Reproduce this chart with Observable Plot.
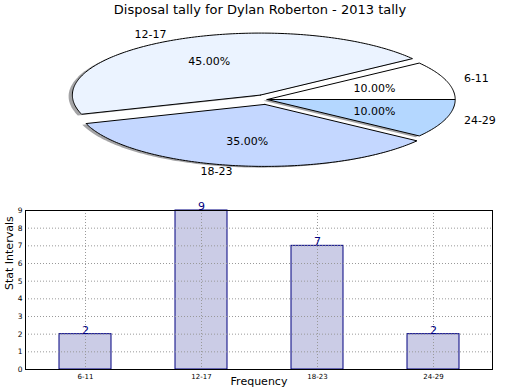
<!DOCTYPE html>
<html>
<head>
<meta charset="utf-8">
<script src="https://cdn.jsdelivr.net/npm/d3@7"></script>
<script src="https://cdn.jsdelivr.net/npm/@observablehq/plot@0.6"></script>
<style>
  html, body { margin: 0; padding: 0; background: white; width: 520px; height: 390px; overflow: hidden; }
  #title { font-family: "DejaVu Sans", sans-serif; font-size: 13px; height: 20px; line-height: 20px; text-align: center; color: #000; }
  svg { display: block; }
</style>
</head>
<body>
<div id="title">Disposal tally for Dylan Roberton - 2013 tally</div>
<div id="pie"></div>
<div id="bars"></div>
<script>
// ---- data ----
const categories = ["6-11", "12-17", "18-23", "24-29"];
const counts = [2, 9, 7, 2];
const pieShares = [10, 45, 35, 10];            // percent per category
const pieLabels = ["10.00%", "45.00%", "35.00%", "10.00%"];
const yTicks = [0, 1, 2, 3, 4, 5, 6, 7, 8, 9];

// ---- styling ----
const sliceColors = ["#ffffff", "#ebf3ff", "#c4d7ff", "#b4d7ff"];
const explode = [0, 0.08, 0.08, 0];
const font = "DejaVu Sans";

// ---- pie geometry in unit-circle coordinates (scaled by Plot's x/y scales) ----
const slices = [];
let acc = 0;
categories.forEach((c, i) => {
  const a0 = acc / 100 * 2 * Math.PI;
  acc += pieShares[i];
  const a1 = acc / 100 * 2 * Math.PI;
  const mid = (a0 + a1) / 2;
  const ox = explode[i] * Math.cos(mid), oy = explode[i] * Math.sin(mid);
  const pts = [{x: ox, y: oy}];
  const n = Math.max(4, Math.ceil((a1 - a0) / (Math.PI / 180)));
  for (let k = 0; k <= n; k++) {
    const a = a0 + (a1 - a0) * k / n;
    pts.push({x: ox + Math.cos(a), y: oy + Math.sin(a)});
  }
  pts.push({x: ox, y: oy});
  slices.push({
    cat: c, color: sliceColors[i], pts,
    shadow: pts.map(p => ({x: p.x - 0.02, y: p.y - 0.02})),
    lx: ox + 1.1 * Math.cos(mid), ly: oy + 1.1 * Math.sin(mid),
    px: ox + 0.6 * Math.cos(mid), py: oy + 0.6 * Math.sin(mid),
    pct: pieLabels[i]
  });
});

const pieMarks = [];
slices.forEach(s => pieMarks.push(Plot.line(s.shadow, {x: "x", y: "y", fill: "#4a4a4d", fillOpacity: 0.5, stroke: "none"})));
slices.forEach(s => pieMarks.push(Plot.line(s.pts, {x: "x", y: "y", fill: s.color, stroke: "black", strokeWidth: 1, strokeLinejoin: "miter"})));
pieMarks.push(Plot.text(slices.filter(s => s.lx >= 0), {x: "lx", y: "ly", text: "cat", textAnchor: "start", fontSize: 11, fill: "black"}));
pieMarks.push(Plot.text(slices.filter(s => s.lx < 0), {x: "lx", y: "ly", text: "cat", textAnchor: "end", fontSize: 11, fill: "black"}));
pieMarks.push(Plot.text(slices, {x: "px", y: "py", text: "pct", textAnchor: "middle", fontSize: 11, fill: "black"}));

const pie = Plot.plot({
  width: 520, height: 170, margin: 0,
  style: {fontFamily: font, background: "white"},
  x: {domain: [-1, 1], range: [78.7, 454.7], axis: null},
  y: {domain: [-1, 1], range: [141, 17], axis: null},
  marks: pieMarks
});
document.getElementById("pie").appendChild(pie);

// ---- bar chart ----
const barData = categories.map((c, i) => ({cat: c, count: counts[i]}));
const bars = Plot.plot({
  width: 520, height: 200,
  marginTop: 20, marginRight: 28, marginBottom: 21, marginLeft: 25,
  style: {fontFamily: font, background: "white", overflow: "visible"},
  x: {domain: categories, padding: 0},
  y: {domain: [0, 9]},
  marks: [
    Plot.barY(barData, {x: "cat", y: "count", fill: "#cbcce6", stroke: "#000080", strokeWidth: 1, insetLeft: 32, insetRight: 32}),
    Plot.gridY(yTicks, {stroke: "#999", strokeOpacity: 1, strokeDasharray: "1,2"}),
    Plot.gridX(categories, {stroke: "#999", strokeOpacity: 1, strokeDasharray: "1,2"}),
    Plot.frame({stroke: "black"}),
    Plot.axisY(yTicks, {tickSize: 0, tickPadding: 3, fontSize: 7.5, label: null}),
    Plot.axisX(categories, {tickSize: 0, tickPadding: 5, fontSize: 7, label: null}),
    Plot.text(barData, {x: "cat", y: "count", text: d => String(d.count), lineAnchor: "bottom", dy: -0.5, fill: "#000080", fontSize: 11}),
    Plot.text(["Stat Intervals"], {frameAnchor: "left", rotate: -90, dx: -16, fontSize: 11, fill: "black"}),
    Plot.text(["Frequency"], {frameAnchor: "bottom", dy: 15, fontSize: 11, fill: "black"})
  ]
});
document.getElementById("bars").appendChild(bars);
</script>
</body>
</html>
